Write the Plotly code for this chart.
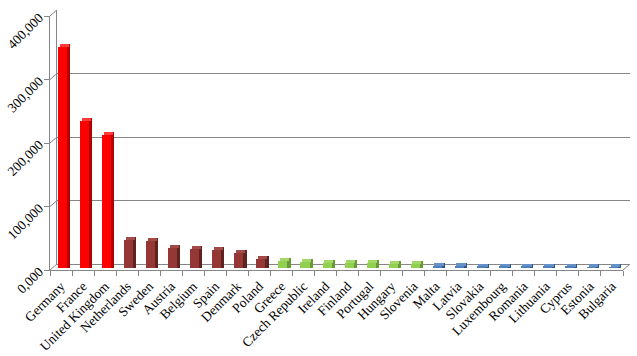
import plotly.graph_objects as go

# ---------------- data ----------------
countries = ["Germany", "France", "United Kingdom", "Netherlands", "Sweden", "Austria",
             "Belgium", "Spain", "Denmark", "Poland", "Greece", "Czech Republic", "Ireland",
             "Finland", "Portugal", "Hungary", "Slovenia", "Malta", "Latvia", "Slovakia",
             "Luxembourg", "Romania", "Lithuania", "Cyprus", "Estonia", "Bulgaria"]
values = [348000, 231000, 209000, 44000, 42000, 32000, 30000, 29000, 23000, 14000,
          11000, 10000, 8500, 8000, 7500, 6500, 6500, 3000, 2500, 2200,
          2200, 2000, 2000, 1800, 1500, 1200]
group = [0, 0, 0, 1, 1, 1, 1, 1, 1, 1,
         2, 2, 2, 2, 2, 2, 2, 3, 3, 3,
         3, 3, 3, 3, 3, 3]
y_tickvals = [0, 100000, 200000, 300000, 400000]
y_ticktext = ["0,000", "100,000", "200,000", "300,000", "400,000"]

# ---------------- styles ----------------
front_pal = ["#FF0000", "#953735", "#92D050", "#4F81BD"]
side_pal = ["#B00000", "#5E2220", "#6A9A35", "#2F5587"]
top_pal = ["#FF3A3A", "#A34947", "#A2D868", "#6690C8"]
front_c = [front_pal[g] for g in group]
side_c = [side_pal[g] for g in group]
top_c = [top_pal[g] for g in group]

W, H = 637, 356
ml, mr, mt, mb = 50, 7, 10, 86
pw, ph = W - ml - mr, H - mt - mb          # 580 x 260
depth_x, depth_y = 7, 6                   # 3-D depth offset in px
yspan = 400000
front_h = 254 / ph                        # fraction of height for 0..400k
delta = 3 * yspan / 254                   # 3px in data units

gray = "#868686"
font = dict(family="Liberation Serif, Times New Roman, serif", size=13.5, color="#000000")

fig = go.Figure()

# side faces
fig.add_trace(go.Bar(x=countries, y=[v + delta for v in values], base=0,
                     offset=0.13, width=0.15, marker=dict(color=side_c, line=dict(width=0)),
                     xaxis="x3", yaxis="y3", hoverinfo="skip", showlegend=False))
# top faces
fig.add_trace(go.Bar(x=countries, y=[delta] * len(values), base=values,
                     offset=-0.2, width=0.42, marker=dict(color=top_c, line=dict(width=0)),
                     xaxis="x3", yaxis="y3", hoverinfo="skip", showlegend=False))
# front faces
fig.add_trace(go.Bar(x=countries, y=values, base=0,
                     offset=-0.27, width=0.41, marker=dict(color=front_c, line=dict(width=0)),
                     xaxis="x3", yaxis="y3", showlegend=False))

# invisible traces to activate the front and back subplots
fig.add_trace(go.Scatter(x=countries, y=[None] * len(countries), xaxis="x", yaxis="y",
                         showlegend=False, hoverinfo="skip"))
fig.add_trace(go.Scatter(x=countries, y=[None] * len(countries), xaxis="x2", yaxis="y2",
                         showlegend=False, hoverinfo="skip"))

xr = [-0.5, len(countries) - 0.5]
fx1 = (pw - depth_x) / pw
bx0 = depth_x / pw
by0 = depth_y / ph
mx0 = 3 / pw
my0 = 2 / ph

fig.update_layout(
    width=W, height=H,
    margin=dict(l=ml, r=mr, t=mt, b=mb, pad=0, autoexpand=False),
    paper_bgcolor="white", plot_bgcolor="rgba(0,0,0,0)",
    barmode="overlay", bargap=0,
    font=font,
    showlegend=False,
    # front axes (labels)
    xaxis=dict(domain=[0, fx1], range=xr, type="category", categoryorder="array",
               categoryarray=countries, showgrid=False, showline=True, linecolor=gray,
               ticks="outside", ticklen=5, tickcolor=gray, tickson="boundaries",
               tickangle=-45, tickfont=font, anchor="y", zeroline=False,
               ticklabelstandoff=2, automargin=False),
    yaxis=dict(domain=[0, front_h], range=[0, yspan], tickvals=y_tickvals,
               ticktext=y_ticktext, showgrid=False, showline=True, linecolor=gray,
               ticks="outside", ticklen=5, tickcolor=gray, tickangle=-45, tickfont=font,
               anchor="x", zeroline=False, ticklabelstandoff=2, automargin=False),
    # back wall (gridlines)
    xaxis2=dict(domain=[bx0, 1], range=xr, type="category", categoryorder="array",
                categoryarray=countries, showgrid=False, showline=True, linecolor=gray,
                showticklabels=False, ticks="", anchor="y2", zeroline=False,
                automargin=False),
    yaxis2=dict(domain=[by0, by0 + front_h], range=[0, yspan], tickvals=y_tickvals,
                showgrid=True, gridcolor=gray, gridwidth=1, showline=True, linecolor=gray,
                showticklabels=False, ticks="", anchor="x2", zeroline=False,
                automargin=False),
    # bars (mid depth)
    xaxis3=dict(domain=[mx0, fx1 + mx0], range=xr, type="category", categoryorder="array",
                categoryarray=countries, visible=False, anchor="y3"),
    yaxis3=dict(domain=[my0, my0 + front_h], range=[0, yspan], visible=False, anchor="x3"),
)

# side-wall connectors between front axis and back wall
shapes = []
for v in y_tickvals:
    fy = v / yspan * front_h
    shapes.append(dict(type="line", xref="paper", yref="paper",
                       x0=0, y0=fy, x1=bx0, y1=by0 + fy,
                       line=dict(color=gray, width=1)))
shapes.append(dict(type="line", xref="paper", yref="paper",
                   x0=fx1, y0=0, x1=1, y1=by0, line=dict(color=gray, width=1)))
fig.update_layout(shapes=shapes)

fig.write_html("out.html")
